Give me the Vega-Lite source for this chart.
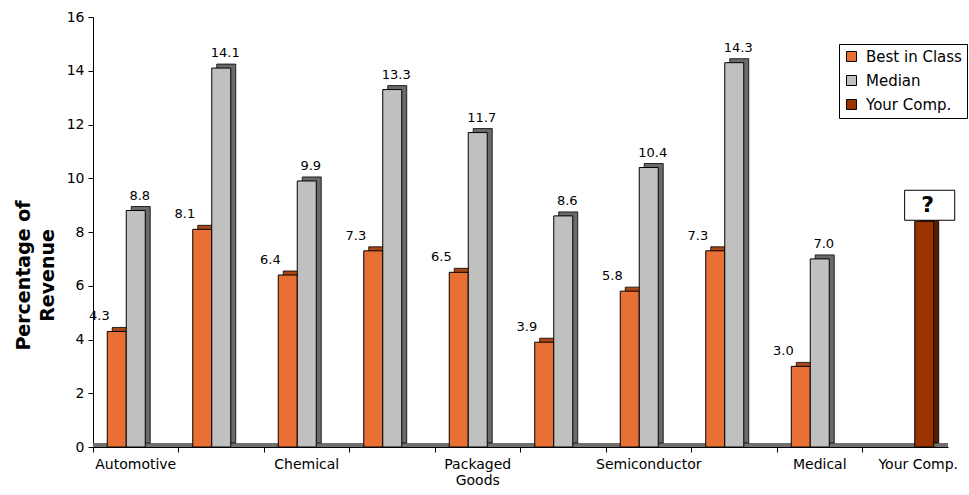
{
  "$schema": "https://vega.github.io/schema/vega-lite/v6.json",
  "autosize": "none",
  "width": 855,
  "height": 430,
  "padding": {"left": 93, "top": 17, "right": 21, "bottom": 48},
  "config": {
    "view": {"stroke": null},
    "font": "DejaVu Sans",
    "axis": {"labelFont": "DejaVu Sans", "titleFont": "DejaVu Sans"},
    "legend": {"labelFont": "DejaVu Sans"}
  },
  "data": {
    "values": [
      {"category": "Automotive", "series": "Best in Class", "value": 4.3},
      {"category": "Automotive", "series": "Median", "value": 8.8},
      {"category": "Industry 2", "series": "Best in Class", "value": 8.1},
      {"category": "Industry 2", "series": "Median", "value": 14.1},
      {"category": "Chemical", "series": "Best in Class", "value": 6.4},
      {"category": "Chemical", "series": "Median", "value": 9.9},
      {"category": "Industry 4", "series": "Best in Class", "value": 7.3},
      {"category": "Industry 4", "series": "Median", "value": 13.3},
      {"category": "Packaged Goods", "series": "Best in Class", "value": 6.5},
      {"category": "Packaged Goods", "series": "Median", "value": 11.7},
      {"category": "Industry 6", "series": "Best in Class", "value": 3.9},
      {"category": "Industry 6", "series": "Median", "value": 8.6},
      {"category": "Semiconductor", "series": "Best in Class", "value": 5.8},
      {"category": "Semiconductor", "series": "Median", "value": 10.4},
      {"category": "Industry 8", "series": "Best in Class", "value": 7.3},
      {"category": "Industry 8", "series": "Median", "value": 14.3},
      {"category": "Medical", "series": "Best in Class", "value": 3.0},
      {"category": "Medical", "series": "Median", "value": 7.0},
      {"category": "Your Comp.", "series": "Your Comp.", "value": 8.4, "unknown": "?"}
    ]
  },
  "encoding": {
    "x": {
      "field": "category",
      "type": "nominal",
      "sort": null,
      "scale": {"paddingInner": 0, "paddingOuter": 0},
      "axis": {
        "title": null,
        "labelAngle": 0,
        "bandPosition": 0,
        "tickSize": 5,
        "tickColor": "black",
        "domainColor": "black",
        "labelColor": "black",
        "labelFontSize": 14,
        "labelPadding": 5,
        "labelLimit": 200,
        "labelLineHeight": 16,
        "labelOffset": {"condition": {"test": "datum.value === 'Your Comp.'", "value": 13}, "value": 0},
        "labelExpr": "indexof(['Automotive','Chemical','Packaged Goods','Semiconductor','Medical','Your Comp.'], datum.value) >= 0 ? (datum.value == 'Packaged Goods' ? ['Packaged','Goods'] : datum.value) : ''"
      }
    },
    "xOffset": {
      "field": "series",
      "type": "nominal",
      "scale": {"domain": ["Best in Class", "Median", "Your Comp."], "paddingInner": 0, "paddingOuter": 0.75}
    },
    "y": {
      "field": "value",
      "type": "quantitative",
      "scale": {"domain": [0, 16], "nice": false},
      "axis": {
        "title": ["Percentage of", "Revenue"],
        "titleFontSize": 19,
        "titleFontWeight": "bold",
        "titleColor": "black",
        "titleY": 258,
        "titlePadding": 9,
        "titleLineHeight": 24,
        "values": [0, 2, 4, 6, 8, 10, 12, 14, 16],
        "grid": false,
        "tickSize": 5,
        "tickColor": "black",
        "domainColor": "black",
        "labelColor": "black",
        "labelFontSize": 14,
        "labelPadding": 4
      }
    }
  },
  "resolve": {"scale": {"xOffset": "independent"}},
  "layer": [
    {
      "mark": {"type": "rule", "color": "#707070", "strokeWidth": 3, "yOffset": -2},
      "encoding": {"y": {"datum": 0}, "x": null, "xOffset": null}
    },
    {
      "transform": [{"calculate": "datum.series + ' depth'", "as": "face"}],
      "mark": {"type": "bar", "yOffset": -4, "stroke": "black", "strokeWidth": 0.8},
      "encoding": {
        "xOffset": {
          "field": "series",
          "type": "nominal",
          "scale": {"domain": ["Best in Class", "Median", "Your Comp."], "paddingInner": 0, "paddingOuter": 0.75, "align": 0.675}
        },
        "fill": {
          "field": "face",
          "type": "nominal",
          "scale": {
            "domain": ["Best in Class", "Median", "Your Comp.", "Best in Class depth", "Median depth", "Your Comp. depth"],
            "range": ["#E97034", "#C0C0C0", "#993300", "#A84818", "#6A6A6A", "#5A1C00"]
          },
          "legend": {
            "title": null,
            "values": ["Best in Class", "Median", "Your Comp."],
            "orient": "none",
            "legendX": 746,
            "legendY": 27,
            "strokeColor": "black",
            "fillColor": "white",
            "padding": 5,
            "symbolType": "square",
            "symbolSize": 100,
            "symbolStrokeColor": "black",
            "symbolStrokeWidth": 1,
            "labelFontSize": 15,
            "labelColor": "black",
            "labelOffset": 7,
            "rowPadding": 8,
            "labelLimit": 200
          }
        }
      }
    },
    {
      "mark": {"type": "bar", "stroke": "black", "strokeWidth": 1},
      "encoding": {
        "fill": {
          "field": "series",
          "type": "nominal",
          "scale": {
            "domain": ["Best in Class", "Median", "Your Comp.", "Best in Class depth", "Median depth", "Your Comp. depth"],
            "range": ["#E97034", "#C0C0C0", "#993300", "#A84818", "#6A6A6A", "#5A1C00"]
          },
          "legend": {
            "title": null,
            "values": ["Best in Class", "Median", "Your Comp."],
            "orient": "none",
            "legendX": 746,
            "legendY": 27,
            "strokeColor": "black",
            "fillColor": "white",
            "padding": 5,
            "symbolType": "square",
            "symbolSize": 100,
            "symbolStrokeColor": "black",
            "symbolStrokeWidth": 1,
            "labelFontSize": 15,
            "labelColor": "black",
            "labelOffset": 7,
            "rowPadding": 8,
            "labelLimit": 200
          }
        }
      }
    },
    {
      "transform": [{"filter": "datum.series == 'Best in Class'"}],
      "mark": {"type": "text", "baseline": "alphabetic", "dy": -11, "dx": -12, "fontSize": 13, "color": "black"},
      "encoding": {"text": {"field": "value", "type": "quantitative", "format": ".1f"}}
    },
    {
      "transform": [{"filter": "datum.series == 'Median'"}],
      "mark": {"type": "text", "baseline": "alphabetic", "dy": -11, "dx": 4, "fontSize": 13, "color": "black"},
      "encoding": {"text": {"field": "value", "type": "quantitative", "format": ".1f"}}
    },
    {
      "transform": [{"filter": "datum.series == 'Your Comp.'"}],
      "mark": {"type": "point", "shape": "M-1.67,-1L1.67,-1L1.67,1L-1.67,1Z", "size": 900, "filled": true, "fill": "white", "stroke": "black", "strokeWidth": 1, "opacity": 1, "yOffset": -16, "xOffset": -2}
    },
    {
      "transform": [{"filter": "datum.series == 'Your Comp.'"}],
      "mark": {"type": "text", "baseline": "middle", "dy": -16, "dx": -2, "fontSize": 22, "fontWeight": "bold", "color": "black"},
      "encoding": {"text": {"field": "unknown", "type": "nominal"}}
    }
  ]
}
